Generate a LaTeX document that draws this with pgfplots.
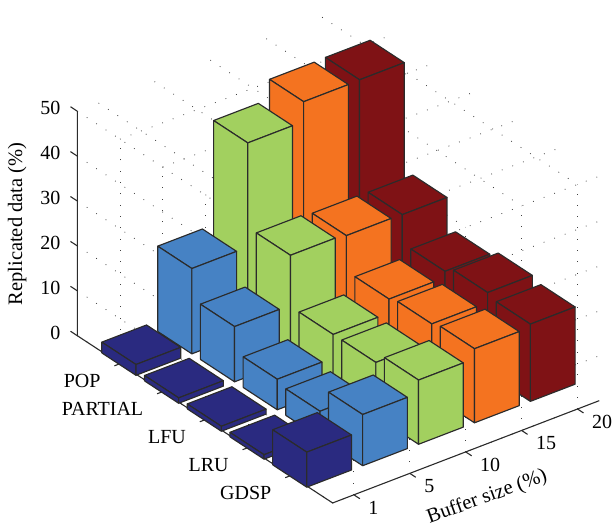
\documentclass[border=0pt]{standalone}
\usepackage{fontspec}
\setmainfont{Liberation Serif}
\usepackage{pgfplots}
\pgfplotsset{compat=1.18}
\usetikzlibrary{calc}
\definecolor{cnavy}{HTML}{2A2A80}
\definecolor{cblue}{HTML}{4682C4}
\definecolor{cgreen}{HTML}{A2D05F}
\definecolor{corange}{HTML}{F47320}
\definecolor{cred}{HTML}{7F1215}
\definecolor{cedge}{HTML}{2B2B2B}
\pgfplotsset{barface/.style={draw=cedge,line width=1.15pt,line join=round,mark=none,forget plot}}
% one bar: buffer index, policy index, height, colour
\newcommand{\barthree}[4]{%
  \pgfmathsetmacro\xa{#1-0.4}\pgfmathsetmacro\xb{#1+0.4}%
  \pgfmathsetmacro\ya{#2-0.4}\pgfmathsetmacro\yb{#2+0.4}%
  \edef\doit{%
    \noexpand\addplot3[barface,fill=#4] coordinates {(\xa,\ya,#3)(\xa,\yb,#3)(\xb,\yb,#3)(\xb,\ya,#3)(\xa,\ya,#3)};
    \noexpand\addplot3[barface,fill=#4] coordinates {(\xa,\ya,0)(\xa,\yb,0)(\xa,\yb,#3)(\xa,\ya,#3)(\xa,\ya,0)};
    \noexpand\addplot3[barface,fill=#4] coordinates {(\xa,\yb,0)(\xb,\yb,0)(\xb,\yb,#3)(\xa,\yb,#3)(\xa,\yb,0)};
  }\doit}
\begin{document}
\begin{tikzpicture}
\begin{axis}[
  x={(55.9pt,21.45pt)},y={(42.7pt,-27.97pt)},z={(0pt,4.49pt)},
  xmin=0.62,xmax=5.39,ymin=0,ymax=5.98,zmin=0,zmax=50,
  xtick={1,2,3,4,5},xticklabels={1,5,10,15,20},
  ytick={1,2,3,4,5},yticklabels={POP,PARTIAL,LFU,LRU,GDSP},
  ztick={0,10,20,30,40,50},
  grid=major,
  grid style={draw=black!75,line width=0.8pt,dash pattern=on 0.8pt off 10.5pt},
  axis line style={draw=none},
  major tick length=0pt,
  clip=false,
  /pgf/number format/assume math mode=true,
  tick label style={font=\fontsize{20}{24}\selectfont},
  label style={font=\fontsize{20.5}{24}\selectfont},
  xticklabel style={anchor=west,xshift=11pt,yshift=-13pt},
  yticklabel style={anchor=east,xshift=-16pt,yshift=-17pt},
  zticklabel style={anchor=east,xshift=-13.5pt,yshift=3pt},
  xlabel={Buffer size (\%)},
  zlabel={Replicated data (\%)},
  xlabel style={at={(axis cs:2.46,7.19,0)},anchor=center,rotate=20},
  zlabel style={at={(axis cs:0.62,-1.41,16.1)},anchor=center,rotate=0},
]
\draw[cedge,line width=1.1pt] (axis cs:0.62,0,50)--(axis cs:0.62,0,0)--(axis cs:0.62,5.98,0)--(axis cs:5.39,5.98,0);
\foreach \t in {1,2,3,4,5}{
  \edef\temp{\noexpand\draw[cedge,line width=1.1pt] (axis cs:\t,5.98,0)--(axis cs:\t,6.12,0);
    \noexpand\draw[cedge,line width=1.1pt] (axis cs:0.62,\t,0)--(axis cs:0.52,\t,0);}\temp}
\foreach \t in {0,10,20,30,40,50}{
  \edef\temp{\noexpand\draw[cedge,line width=1.1pt] (axis cs:0.62,0,\t)--(axis cs:0.62,-0.16,\t);}\temp}
\coordinate (c) at (axis cs:0.62,0,0);
% POP
\barthree{5}{1}{46.7}{cred}\barthree{4}{1}{46.6}{corange}\barthree{3}{1}{42.2}{cgreen}\barthree{2}{1}{19.0}{cblue}\barthree{1}{1}{2.4}{cnavy}
% PARTIAL
\barthree{5}{2}{22.9}{cred}\barthree{4}{2}{23.0}{corange}\barthree{3}{2}{23.4}{cgreen}\barthree{2}{2}{12.3}{cblue}\barthree{1}{2}{1.2}{cnavy}
% LFU
\barthree{5}{3}{16.5}{cred}\barthree{4}{3}{15.1}{corange}\barthree{3}{3}{12.0}{cgreen}\barthree{2}{3}{6.8}{cblue}\barthree{1}{3}{1.1}{cnavy}
% LRU
\barthree{5}{4}{18.0}{cred}\barthree{4}{4}{15.8}{corange}\barthree{3}{4}{12.0}{cgreen}\barthree{2}{4}{5.9}{cblue}\barthree{1}{4}{1.0}{cnavy}
% GDSP
\barthree{5}{5}{17.2}{cred}\barthree{4}{5}{16.5}{corange}\barthree{3}{5}{14.3}{cgreen}\barthree{2}{5}{11.4}{cblue}\barthree{1}{5}{7.8}{cnavy}
\end{axis}
\pgfresetboundingbox
\path[use as bounding box] ($(c)+(-77.3pt,-191.3pt)$) rectangle ++(612pt,527pt);
\end{tikzpicture}
\end{document}
